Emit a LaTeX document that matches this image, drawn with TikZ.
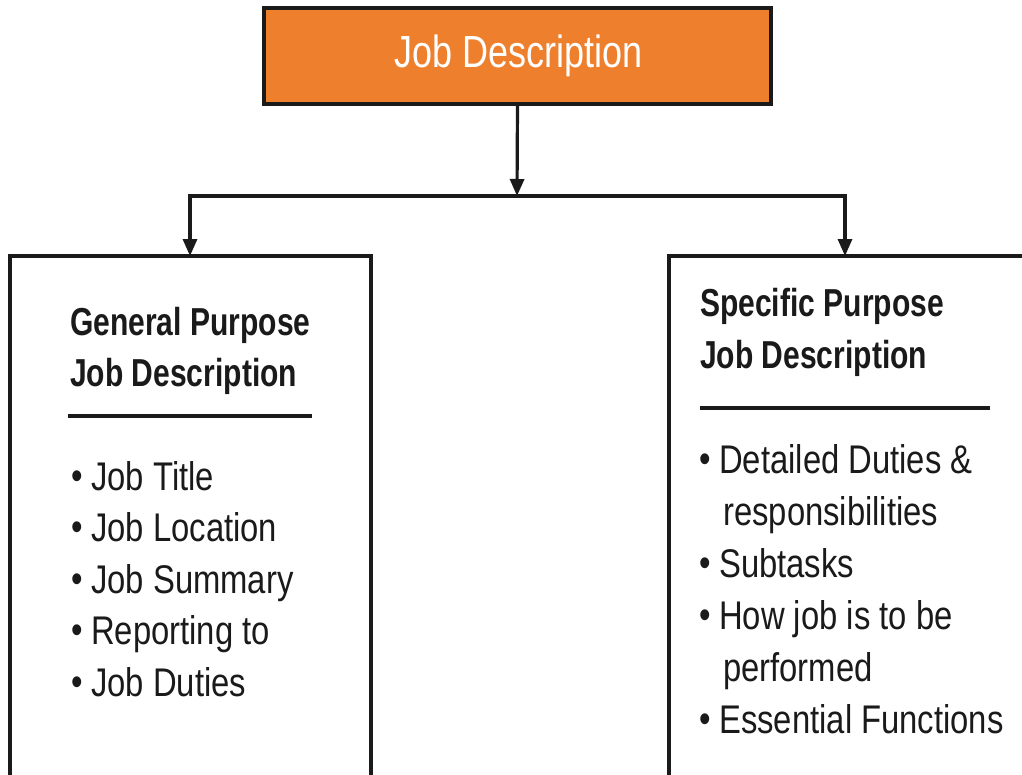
\documentclass[tikz,border=0pt]{standalone}
\usepackage{fontspec}
\setmainfont[FakeStretch=0.82]{Liberation Sans}
\newfontfamily\hdfont[FakeStretch=0.77]{Liberation Sans Bold}
\newfontfamily\ttlfont[FakeStretch=0.80]{Liberation Sans}
\usetikzlibrary{arrows.meta}
\definecolor{jdorange}{HTML}{EE7F2D}
\definecolor{ink}{HTML}{1A1A1A}
\newcommand{\bul}[1]{\makebox[20pt][l]{\raisebox{1pt}{•}}#1}
\begin{document}
\begin{tikzpicture}[x=1pt,y=-1pt,
  frame/.style={draw=ink, line width=3.3pt, rectangle, inner sep=0pt, outer sep=0pt},
  conn/.style={line width=3.2pt, draw=ink, {Triangle[length=17pt,width=14pt]}-{Triangle[length=17pt,width=14pt]}},
  conn1/.style={line width=3.2pt, draw=ink, -{Triangle[length=17pt,width=14pt]}},
  head/.style={anchor=base west, inner sep=0pt, font=\hdfont\fontsize{39}{39}\selectfont, text=ink},
  item/.style={anchor=base west, inner sep=0pt, font=\fontsize{40}{40}\selectfont, text=ink},
  rulel/.style={line width=3.6pt, draw=ink},
]
\useasboundingbox (0,0) rectangle (1022,774);
\clip (0,0) rectangle (1022,774);
% top box
\node[frame, fill=jdorange, minimum width=507pt, minimum height=96pt] (top) at (517.5,56) {};
\node[anchor=base, inner sep=0pt, text=white, font=\ttlfont\fontsize{45}{45}\selectfont] (toplabel) at (519,67) {Job Description};
% lower boxes
\node[frame, fill=white, minimum width=361pt, minimum height=560pt] (lbox) at (190.5,536) {};
\node[frame, fill=white, minimum width=381pt, minimum height=560pt] (rbox) at (859.5,536) {};
% connectors
\coordinate (split) at (517,196);
\coordinate (lc) at (190,196);
\coordinate (rc) at (845,196);
\draw[conn] (lc |- lbox.north) -- (lc) -- (rc) -- (rc |- rbox.north);
\draw[conn1] (top.south) -- (split);
% left content
\node[head] (lh1) at (70,335) {General Purpose};
\node[head] (lh2) at (70,386) {Job Description};
\draw[rulel] (68,416) -- (312,416);
\node[item] (l1) at (71,490) {\bul{Job Title}};
\node[item] (l2) at (71,541.5) {\bul{Job Location}};
\node[item] (l3) at (71,593) {\bul{Job Summary}};
\node[item] (l4) at (71,644.5) {\bul{Reporting to}};
\node[item] (l5) at (71,696) {\bul{Job Duties}};
% right content
\node[head] (rh1) at (700,316) {Specific Purpose};
\node[head] (rh2) at (700,368) {Job Description};
\draw[rulel] (700,408) -- (990,408);
\node[item] (r1) at (699,473) {\bul{Detailed Duties \&}};
\node[item] (r2) at (699,525) {\hspace{24pt}responsibilities};
\node[item] (r3) at (699,577) {\bul{Subtasks}};
\node[item] (r4) at (699,629) {\bul{How job is to be}};
\node[item] (r5) at (699,681) {\hspace{24pt}performed};
\node[item] (r6) at (699,733) {\bul{Essential Functions}};
\end{tikzpicture}
\end{document}
